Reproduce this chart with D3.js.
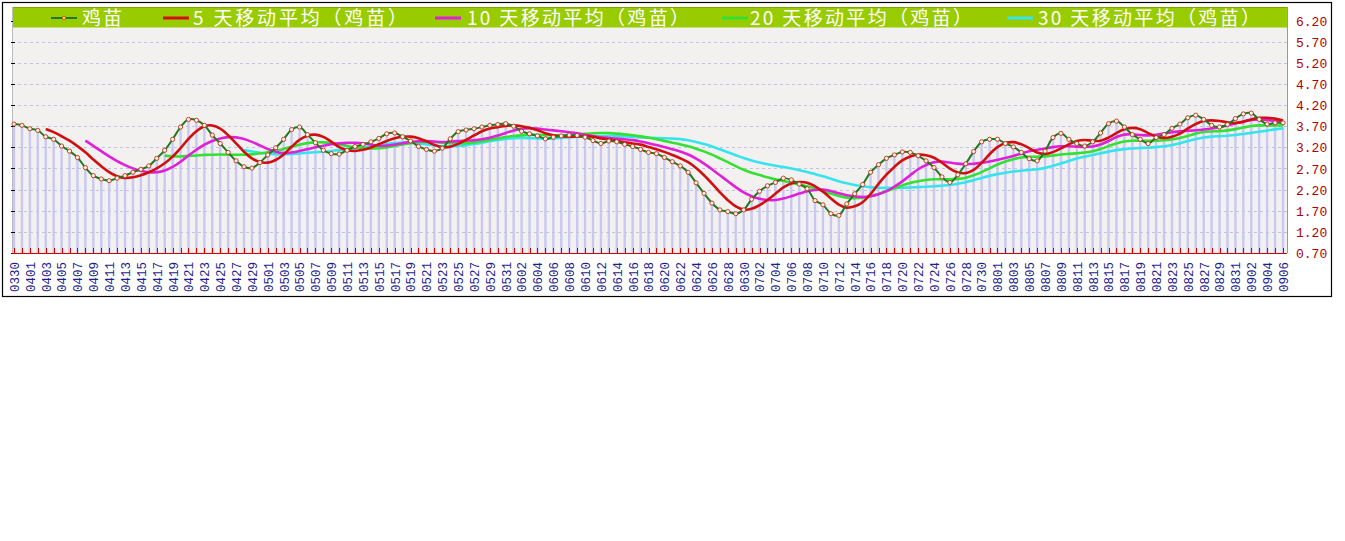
<!DOCTYPE html>
<html><head><meta charset="utf-8">
<script src="https://cdn.jsdelivr.net/npm/d3@7"></script>
<style>body{margin:0;background:#fff;} svg{display:block;}</style>
</head><body>
<svg id="c" width="1345" height="541"></svg>
<script>
// ---------- DATA ----------
const dates = [
"0330","0331",
"0401","0402","0403","0404","0405","0406","0407","0408","0409","0410","0411","0412","0413","0414","0415","0416","0417","0418","0419","0420","0421","0422","0423","0424","0425","0426","0427","0428","0429","0430",
"0501","0502","0503","0504","0505","0506","0507","0508","0509","0510","0511","0512","0513","0514","0515","0516","0517","0518","0519","0520","0521","0522","0523","0524","0525","0526","0527","0528","0529","0530","0531",
"0601","0602","0603","0604","0605","0606","0607","0608","0609","0610","0611","0612","0613","0614","0615","0616","0617","0618","0619","0620","0621","0622","0623","0624","0625","0626","0627","0628","0629","0630",
"0701","0702","0703","0704","0705","0706","0707","0708","0709","0710","0711","0712","0713","0714","0715","0716","0717","0718","0719","0720","0721","0722","0723","0724","0725","0726","0727","0728","0729","0730","0731",
"0801","0802","0803","0804","0805","0806","0807","0808","0809","0810","0811","0812","0813","0814","0815","0816","0817","0818","0819","0820","0821","0822","0823","0824","0825","0826","0827","0828","0829","0830","0831",
"0901","0902","0903","0904","0905","0906"
];
const price = [
3.75,3.72,3.64,3.60,3.45,3.39,3.23,3.11,2.96,2.72,
2.53,2.45,2.41,2.47,2.53,2.61,2.68,2.76,2.94,3.13,
3.39,3.68,3.86,3.84,3.72,3.49,3.29,3.08,2.88,2.74,
2.71,2.84,3.02,3.19,3.39,3.62,3.68,3.50,3.31,3.13,
3.05,3.04,3.13,3.22,3.27,3.33,3.41,3.52,3.54,3.45,
3.35,3.22,3.15,3.11,3.18,3.40,3.57,3.61,3.64,3.68,
3.72,3.74,3.76,3.70,3.58,3.52,3.47,3.40,3.44,3.47,
3.49,3.48,3.44,3.36,3.29,3.35,3.33,3.27,3.22,3.15,
3.08,3.05,2.96,2.86,2.76,2.61,2.36,2.11,1.88,1.72,
1.68,1.63,1.72,1.97,2.16,2.29,2.37,2.47,2.43,2.33,
2.22,1.94,1.84,1.63,1.59,1.86,2.10,2.32,2.61,2.79,
2.94,3.02,3.09,3.08,3.00,2.88,2.72,2.50,2.37,2.55,
2.81,3.10,3.33,3.39,3.39,3.29,3.21,3.08,2.93,2.88,
3.11,3.43,3.53,3.39,3.29,3.23,3.33,3.54,3.76,3.82,
3.68,3.50,3.39,3.29,3.43,3.50,3.65,3.75,3.90,3.96,
3.86,3.72,3.68,3.74,3.88,3.99,4.01,3.86,3.75,3.78,
3.78
];
const yTicks = [0.70,1.20,1.70,2.20,2.70,3.20,3.70,4.20,4.70,5.20,5.70,6.20];
const maWindows = [5,10,20,30];
const seriesNames = ["鸡苗","5 天移动平均（鸡苗）","10 天移动平均（鸡苗）","20 天移动平均（鸡苗）","30 天移动平均（鸡苗）"];
const seriesColors = ["#1f7a1f","#d01010","#e020d8","#33e033","#36e4ee"];

// ---------- CHART ----------
const svg = d3.select("#c");
const L = 12, R = 1287, T = 7, B = 253;
const x = d3.scalePoint().domain(dates).range([14, 1283]);
const y = d3.scaleLinear().domain([0.7, 6.2]).range([253, 20.5]);

// outer frame
svg.append("rect").attr("x",2.5).attr("y",2.5).attr("width",1329).attr("height",294)
  .attr("fill","#fff").attr("stroke","#000").attr("stroke-width",1.2);

// plot background
svg.append("rect").attr("x",L).attr("y",T).attr("width",R-L).attr("height",B-T).attr("fill","#f3f1f0");

// bars
svg.append("g").selectAll("rect").data(price).join("rect")
  .attr("x",(d,i)=>x(dates[i])-1.2).attr("width",2.4)
  .attr("y",d=>y(d)).attr("height",d=>y(0.7)-y(d))
  .attr("fill","#c8c8f2");

// grid lines
svg.append("g").selectAll("line").data(yTicks.slice(1)).join("line")
  .attr("x1",L).attr("x2",R).attr("y1",d=>Math.round(y(d))+0.5).attr("y2",d=>Math.round(y(d))+0.5)
  .attr("stroke","#c2c2e2").attr("stroke-dasharray","3,3").attr("stroke-width",1);

// left ticks & axis line
svg.append("line").attr("x1",12.5).attr("x2",12.5).attr("y1",T).attr("y2",B).attr("stroke","#bbb");
svg.append("g").selectAll("line").data(yTicks).join("line")
  .attr("x1",11).attr("x2",15).attr("y1",d=>Math.round(y(d))+0.5).attr("y2",d=>Math.round(y(d))+0.5)
  .attr("stroke","#000");
// right plot edge
svg.append("line").attr("x1",R+0.5).attr("x2",R+0.5).attr("y1",T).attr("y2",B).attr("stroke","#999");

// baseline and red ticks
svg.append("line").attr("x1",L).attr("x2",R).attr("y1",253.5).attr("y2",253.5).attr("stroke","#cc0000").attr("stroke-width",1.2);
svg.append("g").selectAll("line").data(dates).join("line")
  .attr("x1",d=>Math.round(x(d))+0.5).attr("x2",d=>Math.round(x(d))+0.5)
  .attr("y1",248).attr("y2",253.5).attr("stroke","#cc0000");

// moving averages
function movingAverage(vals, n){
  return vals.map((v,i)=> i < n-1 ? null : d3.mean(vals.slice(i-n+1, i+1)));
}
const mas = maWindows.map(n => movingAverage(price, n));
const line = d3.line().defined(d=>d!=null).x((d,i)=>x(dates[i])).y(d=>y(d))
  .curve(d3.curveCatmullRom.alpha(0.5));

for (let k = mas.length-1; k >= 0; k--) {
  svg.append("path").datum(mas[k]).attr("d",line).attr("fill","none")
    .attr("stroke",seriesColors[k+1]).attr("stroke-width",2.6).attr("stroke-linejoin","round");
}
svg.append("path").datum(price).attr("d",line).attr("fill","none")
  .attr("stroke",seriesColors[0]).attr("stroke-width",2);
svg.append("g").selectAll("circle").data(price).join("circle")
  .attr("cx",(d,i)=>x(dates[i])).attr("cy",d=>y(d)).attr("r",2.1)
  .attr("fill","#fff4e8").attr("stroke","#c03018").attr("stroke-width",0.9);

// y axis labels (right)
const yAxis = svg.append("g").attr("transform","translate(1290,0)")
  .call(d3.axisRight(y).tickValues(yTicks).tickFormat(d3.format(".2f")).tickSize(0).tickPadding(6));
yAxis.select(".domain").remove();
yAxis.selectAll("text").attr("fill","#b00000").attr("font-family","Liberation Mono, DejaVu Sans Mono, monospace")
  .attr("font-size","13px").attr("dy","0.35em");

// x axis labels (rotated)
const xAxis = svg.append("g").attr("transform","translate(0,258)")
  .call(d3.axisBottom(x).tickValues(dates.filter((d,i)=>i%2===0)).tickSize(0).tickPadding(0));
xAxis.select(".domain").remove();
xAxis.selectAll("text").attr("transform","rotate(-90)").attr("text-anchor","start")
  .attr("x",-34).attr("y",0).attr("dy","0.35em")
  .attr("fill","#1e1e8e").attr("font-family","Liberation Mono, DejaVu Sans Mono, monospace").attr("font-size","12.5px");

// legend band
svg.append("rect").attr("x",13).attr("y",7.5).attr("width",1274).attr("height",20).attr("fill","#99cc00");
svg.append("line").attr("x1",13).attr("x2",1287).attr("y1",7.5).attr("y2",7.5).attr("stroke","#7fa300");
const legendPos = [
  {lx:51, tx:82, tl:40},
  {lx:163, tx:193, tl:214},
  {lx:435, tx:467, tl:222},
  {lx:722, tx:750, tl:222},
  {lx:1007, tx:1038, tl:222}
];
const lg = svg.append("g").selectAll("g").data(seriesNames).join("g");
lg.append("line").attr("x1",(d,i)=>legendPos[i].lx).attr("x2",(d,i)=>legendPos[i].lx+26)
  .attr("y1",18).attr("y2",18).attr("stroke",(d,i)=>seriesColors[i]).attr("stroke-width",(d,i)=>i===0?2:3);
lg.filter((d,i)=>i===0).append("circle").attr("cx",legendPos[0].lx+13).attr("cy",18).attr("r",1.8)
  .attr("fill","#ffd24a").attr("stroke","#c03018").attr("stroke-width",0.6);
lg.append("text").attr("x",(d,i)=>legendPos[i].tx).attr("y",24.8)
  .attr("textLength",(d,i)=>legendPos[i].tl).attr("lengthAdjust","spacing")
  .attr("fill","#fff").attr("font-family","Noto Sans CJK SC, sans-serif").attr("font-size","19px")
  .text(d=>d);
</script>
</body></html>
